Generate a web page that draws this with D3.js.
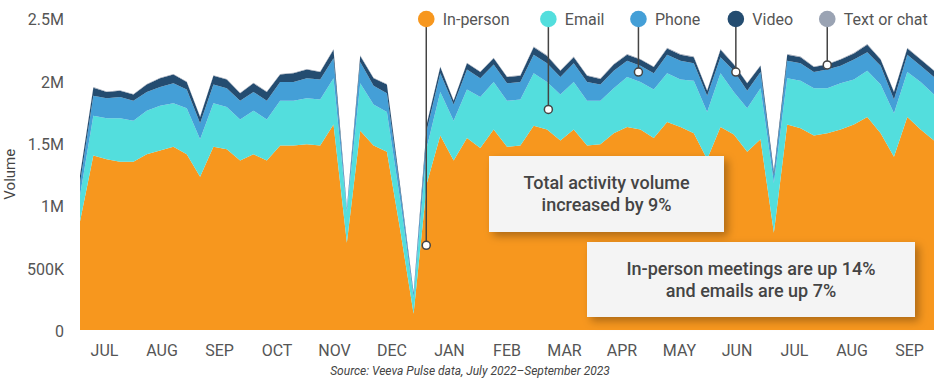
<!DOCTYPE html>
<html>
<head>
<meta charset="utf-8">
<script src="https://cdn.jsdelivr.net/npm/d3@7"></script>
<style>
  body { margin: 0; background: #fff; }
  svg { display: block; font-family: Roboto, "Open Sans", sans-serif; }
</style>
</head>
<body>
<div id="main-chart"></div>
<script>
// weekly volumes, in millions, Jul 2022 - Sep 2023
const inPerson = [0.87, 1.40, 1.37, 1.35, 1.35, 1.41, 1.44, 1.47, 1.41, 1.23, 1.47, 1.45, 1.36, 1.41, 1.36, 1.48,
  1.48, 1.49, 1.48, 1.65, 0.70, 1.60, 1.48, 1.43, 0.80, 0.13, 1.18, 1.56, 1.36, 1.54, 1.46, 1.61,
  1.47, 1.48, 1.64, 1.61, 1.52, 1.61, 1.48, 1.49, 1.58, 1.63, 1.61, 1.54, 1.67, 1.63, 1.58, 1.37,
  1.63, 1.57, 1.43, 1.53, 0.78, 1.65, 1.62, 1.56, 1.58, 1.61, 1.65, 1.71, 1.58, 1.39, 1.71, 1.61, 1.52];
const email = [0.21, 0.32, 0.33, 0.35, 0.33, 0.35, 0.36, 0.35, 0.37, 0.30, 0.35, 0.34, 0.33, 0.35, 0.33, 0.36,
  0.36, 0.37, 0.37, 0.37, 0.25, 0.38, 0.33, 0.32, 0.24, 0.13, 0.29, 0.35, 0.32, 0.39, 0.41, 0.38,
  0.37, 0.37, 0.42, 0.38, 0.37, 0.38, 0.36, 0.35, 0.36, 0.40, 0.38, 0.39, 0.39, 0.38, 0.42, 0.38,
  0.43, 0.34, 0.35, 0.41, 0.40, 0.37, 0.38, 0.38, 0.36, 0.37, 0.36, 0.37, 0.39, 0.35, 0.36, 0.38, 0.37];
const phone = [0.10, 0.16, 0.16, 0.17, 0.16, 0.15, 0.15, 0.16, 0.15, 0.13, 0.15, 0.15, 0.15, 0.15, 0.15, 0.15,
  0.15, 0.16, 0.16, 0.16, 0.02, 0.17, 0.15, 0.15, 0.08, 0.03, 0.14, 0.15, 0.13, 0.16, 0.15, 0.14,
  0.14, 0.14, 0.15, 0.15, 0.14, 0.15, 0.15, 0.13, 0.14, 0.13, 0.13, 0.13, 0.15, 0.15, 0.14, 0.13,
  0.13, 0.17, 0.14, 0.13, 0.06, 0.14, 0.14, 0.13, 0.15, 0.14, 0.16, 0.15, 0.15, 0.11, 0.14, 0.13, 0.14];
const video = [0.06, 0.065, 0.05, 0.05, 0.05, 0.06, 0.07, 0.07, 0.06, 0.05, 0.07, 0.07, 0.06, 0.07, 0.07, 0.06,
  0.07, 0.07, 0.06, 0.07, 0.01, 0.05, 0.06, 0.07, 0.03, 0.01, 0.05, 0.05, 0.03, 0.05, 0.05, 0.05,
  0.05, 0.05, 0.06, 0.06, 0.05, 0.05, 0.05, 0.045, 0.05, 0.05, 0.05, 0.05, 0.05, 0.05, 0.05, 0.04,
  0.06, 0.05, 0.06, 0.05, 0.03, 0.05, 0.05, 0.04, 0.04, 0.05, 0.05, 0.06, 0.05, 0.06, 0.05, 0.05, 0.05];
const textChat = [0.004, 0.005, 0.005, 0.005, 0.005, 0.005, 0.005, 0.005, 0.005, 0.004, 0.005, 0.005, 0.005, 0.005, 0.005, 0.005,
  0.005, 0.005, 0.005, 0.005, 0.002, 0.005, 0.005, 0.005, 0.003, 0.001, 0.004, 0.005, 0.004, 0.005, 0.005, 0.005,
  0.005, 0.005, 0.006, 0.005, 0.005, 0.005, 0.005, 0.005, 0.005, 0.005, 0.005, 0.005, 0.006, 0.005, 0.005, 0.004,
  0.006, 0.005, 0.005, 0.005, 0.003, 0.005, 0.005, 0.005, 0.005, 0.005, 0.006, 0.006, 0.005, 0.005, 0.006, 0.005, 0.005];

const seriesNames = ["In-person", "Email", "Phone", "Video", "Text or chat"];
const seriesColors = ["#f7971e", "#53dedd", "#449fd7", "#244c70", "#9aa3b3"];
const months = ["JUL", "AUG", "SEP", "OCT", "NOV", "DEC", "JAN", "FEB", "MAR", "APR", "MAY", "JUN", "JUL ", "AUG ", "SEP "];
const yTicks = [0, 0.5, 1, 1.5, 2, 2.5];
const yTickLabels = ["0", "500K", "1M", "1.5M", "2M", "2.5M"];
// callout markers: fractional week index and value they point at
const markerWeek = [25.95, 35.1, 41.85, 49.15, 56];
const markerValue = [0.68, 1.77, 2.07, 2.07, 2.127];
const notes = [
  ["Total activity volume", "increased by 9%"],
  ["In-person meetings are up 14%", "and emails are up 7%"]
];

const width = 941, height = 387;
const margin = { top: 18.5, right: 7, bottom: 57, left: 80 };

const svg = d3.select("#main-chart").append("svg")
  .attr("width", width)
  .attr("height", height);

const defs = svg.append("defs");
const shadow = defs.append("filter").attr("id", "shadow")
  .attr("x", "-10%").attr("y", "-20%").attr("width", "130%").attr("height", "160%");
shadow.append("feDropShadow")
  .attr("dx", 4).attr("dy", 4).attr("stdDeviation", 4)
  .attr("flood-color", "#000").attr("flood-opacity", 0.3);

const x = d3.scaleLinear().domain([0, inPerson.length - 1]).range([margin.left, width - margin.right]);
const y = d3.scaleLinear().domain([0, 2.5]).range([height - margin.bottom, margin.top]);
const xMonth = d3.scalePoint().domain(months).range([104, 909]);

const table = inPerson.map((v, i) => ({
  "In-person": v, "Email": email[i], "Phone": phone[i], "Video": video[i], "Text or chat": textChat[i]
}));
const stack = d3.stack().keys(seriesNames);
const layers = stack(table);

const area = d3.area()
  .x((d, i) => x(i))
  .y0(d => y(d[0]))
  .y1(d => y(d[1]));

svg.append("g").selectAll("path")
  .data(layers)
  .enter().append("path")
  .attr("d", area)
  .attr("fill", (d, i) => seriesColors[i]);

// y axis labels
const yAxis = svg.append("g")
  .attr("transform", `translate(${margin.left - 13},0)`)
  .call(d3.axisLeft(y).tickValues(yTicks).tickFormat((d, i) => yTickLabels[i]).tickSize(0));
yAxis.select(".domain").remove();
yAxis.selectAll("text")
  .attr("font-family", "Roboto")
  .attr("font-size", 16)
  .attr("fill", "#555")
  .attr("dy", "0.4em");

svg.append("text")
  .attr("transform", `translate(15,${y(1.25)}) rotate(-90)`)
  .attr("text-anchor", "middle")
  .attr("font-size", 15)
  .attr("fill", "#444")
  .text("Volume");

// x axis month labels
const xAxis = svg.append("g")
  .attr("transform", `translate(0,${height - margin.bottom + 12})`)
  .call(d3.axisBottom(xMonth).tickSize(0).tickFormat(d => d.trim()));
xAxis.select(".domain").remove();
xAxis.selectAll("text")
  .attr("font-family", "Roboto")
  .attr("font-size", 16)
  .attr("fill", "#555");

// annotation boxes
const boxes = [
  { x0: 489, x1: 724, y0: 156, y1: 232 },
  { x0: 587, x1: 915, y0: 242, y1: 317 }
];
boxes.forEach((b, i) => {
  svg.append("rect")
    .attr("x", b.x0).attr("y", b.y0)
    .attr("width", b.x1 - b.x0).attr("height", b.y1 - b.y0)
    .attr("fill", "#f4f4f4")
    .attr("filter", "url(#shadow)");
  const t = svg.append("text")
    .attr("text-anchor", "middle")
    .attr("font-size", 18)
    .attr("font-weight", 500)
    .attr("fill", "#444");
  notes[i].forEach((line, j) => {
    t.append("tspan")
      .attr("x", (b.x0 + b.x1) / 2)
      .attr("y", (b.y0 + b.y1) / 2 - 11 + j * 22 + 6)
      .text(line);
  });
});

// legend with leader lines to the chart
const legendY = 19;
const legend = svg.append("g");
seriesNames.forEach((name, i) => {
  const mx = x(markerWeek[i]);
  const my = y(markerValue[i]);
  legend.append("line")
    .attr("x1", mx).attr("x2", mx)
    .attr("y1", legendY).attr("y2", my)
    .attr("stroke", "#444")
    .attr("stroke-width", 1.5);
  legend.append("circle")
    .attr("cx", mx).attr("cy", my).attr("r", 4)
    .attr("fill", "#fff")
    .attr("stroke", "#444")
    .attr("stroke-width", 1.5);
  legend.append("circle")
    .attr("cx", mx).attr("cy", legendY).attr("r", 8.3)
    .attr("fill", seriesColors[i]);
  legend.append("text")
    .attr("x", mx + 16.5).attr("y", legendY)
    .attr("dy", "0.35em")
    .attr("font-size", 16)
    .attr("fill", "#555")
    .text(name);
});

svg.append("text")
  .attr("x", 470).attr("y", 375)
  .attr("text-anchor", "middle")
  .attr("font-size", 12)
  .attr("font-style", "italic")
  .attr("fill", "#444")
  .text("Source: Veeva Pulse data, July 2022\u2013September 2023");
</script>
</body>
</html>
